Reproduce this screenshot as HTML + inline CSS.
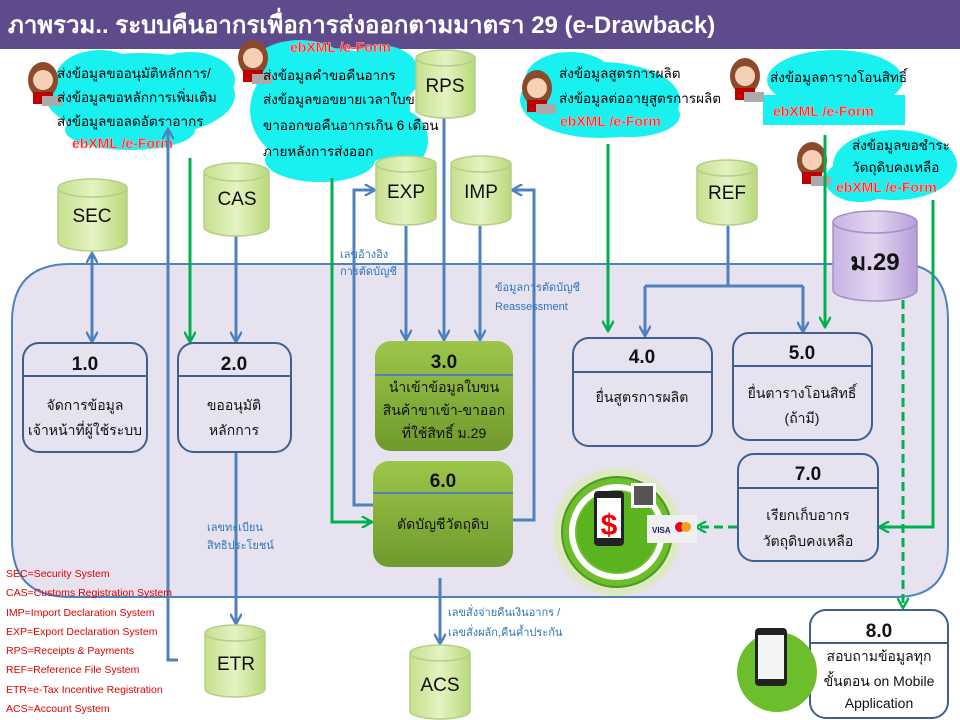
<!DOCTYPE html>
<html><head><meta charset="utf-8"><style>
html,body{margin:0;padding:0;background:#fff;}
svg{display:block;font-family:"Liberation Sans","Noto Sans CJK SC",sans-serif;}
.t{font-size:13.5px;fill:#000;}
.b{font-size:11px;fill:#2e75b6;}
.r{font-size:10.5px;fill:#e00000;}
.e{font-size:14px;font-weight:bold;fill:#ff1a1a;stroke:#ffb3b3;stroke-width:0.6;}
.cy{font-size:19px;fill:#111;text-anchor:middle;}
.n{font-size:19px;font-weight:bold;fill:#111;text-anchor:middle;}
.p{font-size:14px;fill:#111;text-anchor:middle;}
</style></head><body>
<svg width="960" height="720" viewBox="0 0 960 720" xmlns="http://www.w3.org/2000/svg">
<defs>
<linearGradient id="gc" x1="0" x2="1"><stop offset="0" stop-color="#c6e08e"/><stop offset="0.5" stop-color="#e4f3c2"/><stop offset="1" stop-color="#b9d97a"/></linearGradient>
<linearGradient id="pc" x1="0" x2="1"><stop offset="0" stop-color="#c9b3e3"/><stop offset="0.5" stop-color="#e2d6f0"/><stop offset="1" stop-color="#b79ed8"/></linearGradient>
<linearGradient id="gb" x1="0" y1="0" x2="0" y2="1"><stop offset="0" stop-color="#9cc64a"/><stop offset="1" stop-color="#6f9a2c"/></linearGradient>
<marker id="ab" viewBox="0 0 10 10" refX="8" refY="5" markerWidth="4" markerHeight="4" orient="auto-start-reverse"><path d="M0,0 L9,5 L0,10" fill="none" stroke="#4f81bd" stroke-width="2"/></marker>
<marker id="ag" viewBox="0 0 10 10" refX="8" refY="5" markerWidth="4" markerHeight="4" orient="auto-start-reverse"><path d="M0,0 L9,5 L0,10" fill="none" stroke="#00b050" stroke-width="2"/></marker>
</defs>

<rect x="0" y="0" width="960" height="49" fill="#5f4b8b"/>
<text x="8" y="33" font-size="24" font-weight="bold" fill="#fff">ภาพรวม.. ระบบคืนอากรเพื่อการส่งออกตามมาตรา 29 (e-Drawback)</text>

<path d="M70,264 L900,264 Q948,264 948,320 L948,545 Q948,597 896,597 L70,597 Q12,597 12,540 L12,322 Q12,264 70,264 Z" fill="#e6e2ef" stroke="#4f81bd" stroke-width="2"/>

<g fill="#19f0f0">
<ellipse cx="140" cy="95" rx="95" ry="42"/><ellipse cx="100" cy="80" rx="45" ry="30"/><ellipse cx="190" cy="80" rx="45" ry="28"/><ellipse cx="130" cy="130" rx="65" ry="20"/>
<ellipse cx="330" cy="110" rx="80" ry="62"/><ellipse cx="300" cy="70" rx="50" ry="30"/><ellipse cx="380" cy="75" rx="40" ry="30"/><ellipse cx="320" cy="160" rx="55" ry="22"/><ellipse cx="400" cy="140" rx="28" ry="30"/>
<ellipse cx="600" cy="100" rx="80" ry="38"/><ellipse cx="570" cy="80" rx="45" ry="28"/><ellipse cx="630" cy="115" rx="50" ry="22"/>
<ellipse cx="835" cy="80" rx="68" ry="30"/><rect x="763" y="95" width="142" height="30"/>
<ellipse cx="895" cy="165" rx="62" ry="35"/><ellipse cx="860" cy="180" rx="35" ry="22"/>
</g>

<g>
<g transform="translate(28,62)"><ellipse cx="15" cy="18" rx="15" ry="18" fill="#8b4a2b"/><circle cx="15" cy="18" r="10" fill="#f5d0b5"/><rect x="5" y="30" width="20" height="12" fill="#c00000"/><rect x="14" y="34" width="20" height="10" fill="#aaa"/></g>
<g transform="translate(238,40)"><ellipse cx="15" cy="18" rx="15" ry="18" fill="#8b4a2b"/><circle cx="15" cy="18" r="10" fill="#f5d0b5"/><rect x="5" y="30" width="20" height="12" fill="#c00000"/><rect x="14" y="34" width="20" height="10" fill="#aaa"/></g>
<g transform="translate(522,70)"><ellipse cx="15" cy="18" rx="15" ry="18" fill="#8b4a2b"/><circle cx="15" cy="18" r="10" fill="#f5d0b5"/><rect x="5" y="30" width="20" height="12" fill="#c00000"/><rect x="14" y="34" width="20" height="10" fill="#aaa"/></g>
<g transform="translate(730,58)"><ellipse cx="15" cy="18" rx="15" ry="18" fill="#8b4a2b"/><circle cx="15" cy="18" r="10" fill="#f5d0b5"/><rect x="5" y="30" width="20" height="12" fill="#c00000"/><rect x="14" y="34" width="20" height="10" fill="#aaa"/></g>
<g transform="translate(797,142)"><ellipse cx="15" cy="18" rx="15" ry="18" fill="#8b4a2b"/><circle cx="15" cy="18" r="10" fill="#f5d0b5"/><rect x="5" y="30" width="20" height="12" fill="#c00000"/><rect x="14" y="34" width="20" height="10" fill="#aaa"/></g>
</g>

<text class="t" x="57" y="78">ส่งข้อมูลขออนุมัติหลักการ/</text>
<text class="t" x="57" y="102">ส่งข้อมูลขอหลักการเพิ่มเติม</text>
<text class="t" x="57" y="126">ส่งข้อมูลขอลดอัตราอากร</text>
<text class="e" x="72" y="148">ebXML /e-Form</text>
<text class="e" x="290" y="52">ebXML /e-Form</text>
<text class="t" x="263" y="80">ส่งข้อมูลคำขอคืนอากร</text>
<text class="t" x="263" y="104">ส่งข้อมูลขอขยายเวลาใบขนฯ</text>
<text class="t" x="263" y="130">ขาออกขอคืนอากรเกิน 6 เดือน</text>
<text class="t" x="263" y="156">ภายหลังการส่งออก</text>
<text class="t" x="559" y="78">ส่งข้อมูลสูตรการผลิต</text>
<text class="t" x="559" y="103">ส่งข้อมูลต่ออายุสูตรการผลิต</text>
<text class="e" x="560" y="126">ebXML /e-Form</text>
<text class="t" x="770" y="82">ส่งข้อมูลตารางโอนสิทธิ์</text>
<text class="e" x="773" y="116">ebXML /e-Form</text>
<text class="t" x="852" y="150">ส่งข้อมูลขอชำระ</text>
<text class="t" x="852" y="172">วัตถุดิบคงเหลือ</text>
<text class="e" x="836" y="192">ebXML /e-Form</text>

<g fill="none" stroke="#4f81bd" stroke-width="3">
<path d="M92,254 L92,341" marker-start="url(#ab)" marker-end="url(#ab)"/>
<path d="M178,660 L168,660 L168,130" marker-end="url(#ab)"/>
<path d="M236,236 L236,341" marker-end="url(#ab)"/>
<path d="M236,452 L236,623" marker-end="url(#ab)"/>
<path d="M373,505 L354,505 L354,190 L374,190" marker-end="url(#ab)"/>
<path d="M513,520 L534,520 L534,190 L513,190" marker-end="url(#ab)"/>
<path d="M406,226 L406,339" marker-end="url(#ab)"/>
<path d="M444,118 L444,339" marker-end="url(#ab)"/>
<path d="M480,226 L480,339" marker-end="url(#ab)"/>
<path d="M728,226 L728,286"/>
<path d="M645,286 L803,286"/>
<path d="M645,286 L645,335" marker-end="url(#ab)"/>
<path d="M803,286 L803,331" marker-end="url(#ab)"/>
<path d="M440,578 L440,643" marker-end="url(#ab)"/>
</g>
<g fill="none" stroke="#00b050" stroke-width="3">
<path d="M190,158 L190,341" marker-end="url(#ag)"/>
<path d="M332,178 L332,522 L371,522" marker-end="url(#ag)"/>
<path d="M608,144 L608,330" marker-end="url(#ag)"/>
<path d="M825,135 L825,326" marker-end="url(#ag)"/>
<path d="M933,200 L933,527 L880,527" marker-end="url(#ag)"/>
<path d="M903,300 L903,607" stroke-dasharray="9,5" marker-end="url(#ag)"/>
<path d="M737,527 L697,527" stroke-dasharray="9,5" marker-end="url(#ag)"/>
</g>

<g stroke="#b5ce8a" stroke-width="1.5" fill="url(#gc)">
<path d="M58,188 L58,242 A34.5,9 0 0 0 127,242 L127,188"/><ellipse cx="92.5" cy="188" rx="34.5" ry="9"/>
<path d="M204,172 L204,227 A32.5,9 0 0 0 269,227 L269,172"/><ellipse cx="236.5" cy="172" rx="32.5" ry="9"/>
<path d="M416,58 L416,110 A29.5,8 0 0 0 475,110 L475,58"/><ellipse cx="445.5" cy="58" rx="29.5" ry="8"/>
<path d="M376,164 L376,217 A30,8 0 0 0 436,217 L436,164"/><ellipse cx="406" cy="164" rx="30" ry="8"/>
<path d="M451,164 L451,217 A30,8 0 0 0 511,217 L511,164"/><ellipse cx="481" cy="164" rx="30" ry="8"/>
<path d="M697,168 L697,217 A30,8 0 0 0 757,217 L757,168"/><ellipse cx="727" cy="168" rx="30" ry="8"/>
<path d="M205,633 L205,689 A30,8 0 0 0 265,689 L265,633"/><ellipse cx="235" cy="633" rx="30" ry="8"/>
<path d="M410,653 L410,711 A30,8 0 0 0 470,711 L470,653"/><ellipse cx="440" cy="653" rx="30" ry="8"/>
</g>
<g stroke="#a58fc8" stroke-width="1.5" fill="url(#pc)">
<path d="M833,222 L833,290 A42,11 0 0 0 917,290 L917,222"/><ellipse cx="875" cy="222" rx="42" ry="11"/>
</g>
<text class="cy" x="92" y="222">SEC</text>
<text class="cy" x="237" y="205">CAS</text>
<text class="cy" x="445" y="92">RPS</text>
<text class="cy" x="406" y="198">EXP</text>
<text class="cy" x="481" y="198">IMP</text>
<text class="cy" x="727" y="199">REF</text>
<text class="cy" x="236" y="670">ETR</text>
<text class="cy" x="440" y="691">ACS</text>
<text x="875" y="270" font-size="24" font-weight="bold" fill="#111" text-anchor="middle">ม.29</text>

<g fill="none" stroke="#3f5f8f" stroke-width="2">
<rect x="23" y="343" width="124" height="109" rx="16"/><line x1="23" y1="376" x2="147" y2="376"/>
<rect x="178" y="343" width="113" height="109" rx="16"/><line x1="178" y1="376" x2="291" y2="376"/>
<rect x="573" y="338" width="139" height="108" rx="16"/><line x1="573" y1="372" x2="712" y2="372"/>
<rect x="733" y="333" width="139" height="107" rx="16"/><line x1="733" y1="366" x2="872" y2="366"/>
<rect x="738" y="454" width="140" height="107" rx="16"/><line x1="738" y1="488" x2="878" y2="488"/>
<rect x="810" y="610" width="138" height="108" rx="16" fill="#fff"/><line x1="810" y1="643" x2="948" y2="643"/>
</g>
<rect x="375" y="341" width="138" height="110" rx="16" fill="url(#gb)"/>
<line x1="375" y1="375" x2="513" y2="375" stroke="#4f81bd" stroke-width="2"/>
<rect x="373" y="461" width="140" height="106" rx="16" fill="url(#gb)"/>
<line x1="373" y1="493" x2="513" y2="493" stroke="#4f81bd" stroke-width="2"/>

<text class="n" x="85" y="370">1.0</text>
<text class="p" x="85" y="410">จัดการข้อมูล</text>
<text class="p" x="85" y="435">เจ้าหน้าที่ผู้ใช้ระบบ</text>
<text class="n" x="234" y="370">2.0</text>
<text class="p" x="234" y="410">ขออนุมัติ</text>
<text class="p" x="234" y="435">หลักการ</text>
<text class="n" x="444" y="368">3.0</text>
<text class="p" x="444" y="392">นำเข้าข้อมูลใบขน</text>
<text class="p" x="444" y="415">สินค้าขาเข้า-ขาออก</text>
<text class="p" x="444" y="438">ที่ใช้สิทธิ์ ม.29</text>
<text class="n" x="443" y="487">6.0</text>
<text class="p" x="443" y="529">ตัดบัญชีวัตถุดิบ</text>
<text class="n" x="642" y="363">4.0</text>
<text class="p" x="642" y="402">ยื่นสูตรการผลิต</text>
<text class="n" x="802" y="359">5.0</text>
<text class="p" x="802" y="398">ยื่นตารางโอนสิทธิ์</text>
<text class="p" x="802" y="423">(ถ้ามี)</text>
<text class="n" x="808" y="480">7.0</text>
<text class="p" x="808" y="520">เรียกเก็บอากร</text>
<text class="p" x="808" y="546">วัตถุดิบคงเหลือ</text>
<text class="n" x="879" y="637">8.0</text>
<text class="p" x="879" y="661">สอบถามข้อมูลทุก</text>
<text class="p" x="879" y="686">ขั้นตอน on Mobile</text>
<text class="p" x="879" y="708">Application</text>

<text class="b" x="340" y="258" font-size="10">เลขอ้างอิง</text>
<text class="b" x="340" y="275" font-size="10">การตัดบัญชี</text>
<text class="b" x="495" y="291" font-size="10">ข้อมูลการตัดบัญชี</text>
<text class="b" x="495" y="310" font-size="10">Reassessment</text>
<text class="b" x="207" y="531">เลขทะเบียน</text>
<text class="b" x="207" y="549">สิทธิประโยชน์</text>
<text class="b" x="448" y="616">เลขสั่งจ่ายคืนเงินอากร /</text>
<text class="b" x="448" y="636">เลขสั่งผลัก,คืนค้ำประกัน</text>

<text class="r" x="6" y="577">SEC=Security System</text>
<text class="r" x="6" y="596">CAS=Customs Registration System</text>
<text class="r" x="6" y="616">IMP=Import Declaration System</text>
<text class="r" x="6" y="635">EXP=Export Declaration System</text>
<text class="r" x="6" y="654">RPS=Receipts &amp; Payments</text>
<text class="r" x="6" y="673">REF=Reference File System</text>
<text class="r" x="6" y="693">ETR=e-Tax Incentive Registration</text>
<text class="r" x="6" y="712">ACS=Account System</text>

<circle cx="617" cy="532" r="64" fill="#d8ecb0" opacity="0.7"/>
<circle cx="617" cy="532" r="55" fill="#6cbf2a" stroke="#4c9a1e" stroke-width="2"/>
<circle cx="617" cy="532" r="45" fill="none" stroke="#fff" stroke-width="6"/>
<circle cx="617" cy="532" r="40" fill="#5ab31f"/>
<rect x="594" y="491" width="30" height="55" rx="4" fill="#222"/>
<rect x="597" y="498" width="24" height="40" fill="#fff"/>
<text x="609" y="535" font-size="30" font-weight="bold" fill="#e00" text-anchor="middle">$</text>
<rect x="631" y="483" width="25" height="25" fill="#fff"/><rect x="634" y="486" width="19" height="19" fill="#555"/>
<rect x="647" y="515" width="50" height="28" fill="#f0f0f0"/>
<text x="652" y="533" font-size="8" font-weight="bold" fill="#1a1f71">VISA</text>
<circle cx="680" cy="527" r="5" fill="#eb001b"/><circle cx="686" cy="527" r="5" fill="#f79e1b"/>

<circle cx="777" cy="672" r="40" fill="#6cbf2a"/>
<rect x="755" y="628" width="32" height="58" rx="4" fill="#222"/>
<rect x="758" y="635" width="26" height="44" fill="#f4f4f4"/>
</svg>
</body></html>
